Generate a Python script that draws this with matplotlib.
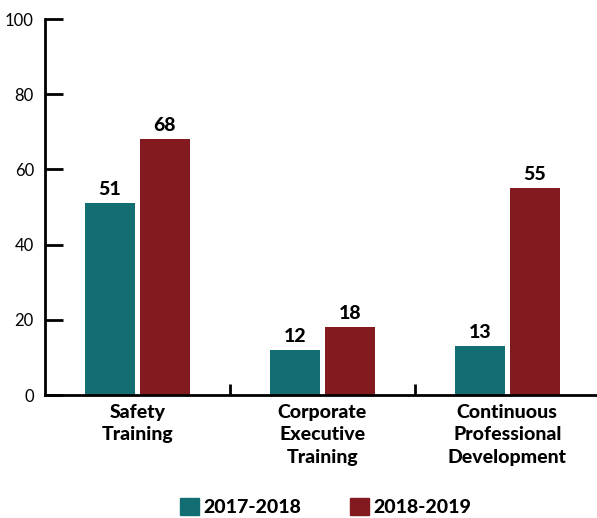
import matplotlib.pyplot as plt
from matplotlib.patches import Patch
import numpy as np

categories = ['Safety\nTraining', 'Corporate\nExecutive\nTraining', 'Continuous\nProfessional\nDevelopment']
series_names = ['2017-2018', '2018-2019']
vals_2017 = [51, 12, 13]
vals_2018 = [68, 18, 55]
colors = ['#126E73', '#821A1F']

plt.rcParams['font.family'] = ['Lato', 'DejaVu Sans']

fig = plt.figure(figsize=(5.97, 5.18), dpi=100)
ax = fig.add_axes([45 / 597, 123 / 518, 552 / 597, 376 / 518])

x = np.arange(len(categories))
w = 0.27
off = 0.1486
for vals, dx, c in [(vals_2017, -off, colors[0]), (vals_2018, off, colors[1])]:
    bars = ax.bar(x + dx, vals, width=w, color=c)
    for b, v in zip(bars, vals):
        ax.text(b.get_x() + b.get_width() / 2, v + 1.3, str(v), ha='center', va='bottom',
                fontsize=14, fontweight=900)

ax.set_xlim(-0.5, 2.485)
ax.set_ylim(0, 100)
ax.set_yticks([0, 20, 40, 60, 80, 100])
ax.tick_params(axis='y', direction='in', length=13, width=2, labelsize=12, pad=8)
ax.set_xticks([0.5, 1.5])
ax.set_xticklabels([])
ax.tick_params(axis='x', direction='in', length=8, width=2)
for s in ['top', 'right']:
    ax.spines[s].set_visible(False)
for s in ['left', 'bottom']:
    ax.spines[s].set_linewidth(2)

for xi, lab in zip(x, categories):
    ax.text(xi, -2.3, lab, ha='center', va='top', fontsize=14, fontweight=900,
            linespacing=1.4, transform=ax.transData)

handles = [Patch(color=c) for c in colors]
fig.legend(handles, series_names, loc='lower center', bbox_to_anchor=(0.545, -0.03), ncol=2,
           frameon=False, handlelength=1.0, handleheight=1.0, handletextpad=0.2,
           columnspacing=2.5, prop={'weight': 900, 'size': 14})

fig.savefig('out.png', dpi=100)
